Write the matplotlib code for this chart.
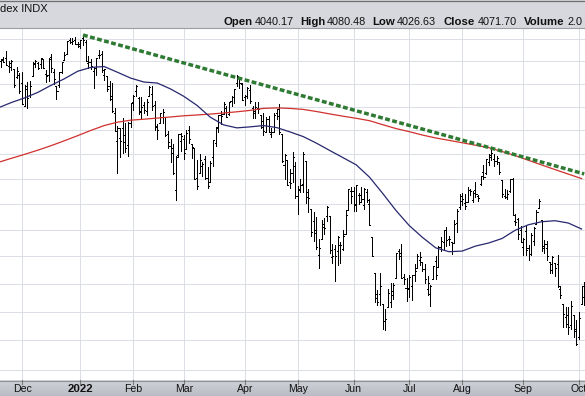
import numpy as np
import pandas as pd
import matplotlib
matplotlib.use('Agg')
import matplotlib.pyplot as plt
from matplotlib.collections import LineCollection
import matplotlib.transforms as mtransforms

plt.rcParams['font.family'] = ['Liberation Sans', 'DejaVu Sans']

# ---------------- data ----------------
holidays = ['2021-11-25', '2021-12-24', '2022-01-17', '2022-02-21', '2022-04-15',
            '2022-05-30', '2022-06-20', '2022-07-04', '2022-09-05']
dates = pd.bdate_range('2021-11-17', '2022-10-05', freq='C', holidays=holidays)

opens = [
    4701.5, 4700.7, 4708.4, 4712.0, 4678.5, 4675.8, 4664.6, 4628.8, 4640.2,
    4602.8, 4504.7, 4589.5, 4548.4, 4632.0, 4690.9, 4691.0, 4687.6, 4710.3, 4642.0, 4636.5, 4719.1, 4652.5, 4587.9, 4595.0, 4650.4, 4704.0, 4734.0, 4795.5, 4788.6, 4794.2, 4775.2,
    4778.1, 4804.5, 4788.0, 4693.4, 4697.7, 4655.3, 4669.1, 4728.6, 4733.6, 4638.0, 4632.2, 4588.0, 4547.4, 4471.4, 4356.3, 4366.6, 4408.4, 4380.6, 4336.2, 4431.8,
    4519.6, 4566.4, 4535.4, 4482.8, 4505.8, 4480.0, 4547.0, 4553.2, 4506.3, 4412.6, 4429.3, 4455.8, 4456.1, 4384.6, 4332.7, 4324.9, 4155.8, 4298.4, 4354.2,
    4363.1, 4322.6, 4401.3, 4342.1, 4327.0, 4202.7, 4223.1, 4252.6, 4279.5, 4202.8, 4188.8, 4288.1, 4345.1, 4407.3, 4462.4, 4469.1, 4493.1, 4470.0, 4522.7, 4541.1, 4602.9, 4624.2, 4599.0,
    4540.3, 4548.0, 4572.5, 4494.2, 4474.7, 4494.2, 4462.6, 4437.6, 4394.3, 4449.1, 4385.6, 4390.6, 4472.3, 4489.2, 4385.8, 4255.3, 4278.1, 4186.5, 4222.6, 4253.8,
    4130.6, 4159.8, 4181.2, 4270.4, 4128.2, 4081.3, 4035.2, 3990.1, 3904.0, 3963.9, 4013.0, 4052.0, 4052.0, 3899.0, 3927.8, 3919.4, 3942.9, 3929.6, 3984.6, 4077.4, 4151.1,
    4149.8, 4095.4, 4137.6, 4134.7, 4096.5, 4147.1, 4101.7, 3974.4, 3838.2, 3763.5, 3764.1, 3728.2, 3665.9, 3715.3, 3733.9, 3774.7, 3821.8, 3920.8, 3913.0, 3825.1, 3786.0,
    3781.0, 3792.6, 3832.0, 3858.9, 3888.3, 3880.9, 3852.0, 3779.7, 3764.0, 3818.0, 3883.8, 3860.7, 3935.3, 3955.5, 4000.0, 3965.7, 3953.2, 3951.4, 4026.1, 4087.3,
    4112.4, 4104.2, 4108.0, 4154.9, 4115.9, 4155.9, 4133.1, 4181.0, 4227.4, 4225.0, 4269.4, 4290.5, 4280.4, 4273.1, 4266.3, 4195.1, 4133.1, 4126.6, 4153.3, 4198.7, 4034.6, 4041.3, 4000.7,
    3936.7, 3994.7, 3930.9, 3909.4, 3959.9, 4022.9, 4083.7, 4037.1, 3940.7, 3932.4, 3881.0, 3849.9, 3875.2, 3871.4, 3782.4, 3727.1, 3682.7, 3686.4, 3651.9, 3687.0, 3633.5,
    3609.8, 3726.5, 3753.3]

highs = [
    4701.5, 4708.8, 4717.8, 4743.8, 4699.4, 4702.9, 4664.6, 4672.9, 4646.0,
    4652.9, 4595.5, 4608.0, 4612.6, 4694.0, 4705.1, 4695.3, 4713.6, 4710.3, 4660.5, 4712.6, 4732.0, 4666.7, 4587.9, 4651.1, 4697.7, 4740.7, 4791.5, 4807.0, 4804.1, 4808.9, 4786.8,
    4796.6, 4818.6, 4797.7, 4725.0, 4708.0, 4673.0, 4714.1, 4749.0, 4744.1, 4665.1, 4632.2, 4611.6, 4602.1, 4494.5, 4417.4, 4411.0, 4453.2, 4428.7, 4432.7, 4516.9,
    4550.5, 4595.3, 4542.9, 4539.7, 4521.9, 4531.3, 4590.0, 4588.9, 4526.3, 4426.2, 4472.8, 4489.6, 4456.1, 4394.6, 4362.1, 4341.5, 4294.7, 4385.3, 4388.8,
    4378.5, 4401.5, 4416.8, 4342.1, 4327.0, 4276.9, 4299.4, 4268.3, 4291.0, 4247.6, 4271.1, 4358.0, 4412.7, 4465.4, 4481.8, 4522.0, 4501.1, 4520.6, 4546.0, 4575.7, 4637.3, 4627.8, 4603.1,
    4548.7, 4583.5, 4593.5, 4503.9, 4521.2, 4520.4, 4464.4, 4471.0, 4453.9, 4460.5, 4410.3, 4471.0, 4488.3, 4512.9, 4385.8, 4299.0, 4278.1, 4240.7, 4308.5, 4269.7,
    4169.8, 4200.1, 4307.7, 4270.4, 4157.7, 4081.3, 4068.8, 4049.1, 3964.8, 4038.9, 4046.5, 4090.7, 4052.0, 3946.0, 3943.4, 3975.5, 3955.7, 3999.3, 4075.1, 4158.5, 4168.3,
    4166.5, 4177.5, 4142.7, 4168.8, 4164.9, 4160.1, 4119.1, 3974.4, 3838.2, 3778.2, 3837.6, 3728.2, 3707.7, 3779.7, 3801.8, 3802.6, 3913.7, 3927.7, 3945.9, 3836.5, 3819.0,
    3829.8, 3832.2, 3870.9, 3910.6, 3918.5, 3880.9, 3873.4, 3829.4, 3796.4, 3863.6, 3902.4, 3939.8, 3974.1, 3999.3, 4012.4, 3975.3, 3953.2, 4039.6, 4079.0, 4140.2,
    4145.0, 4140.5, 4167.7, 4161.3, 4151.6, 4186.6, 4137.3, 4211.0, 4257.9, 4280.5, 4301.8, 4325.3, 4302.2, 4292.5, 4266.3, 4195.1, 4159.8, 4156.6, 4200.5, 4203.0, 4063.0, 4045.0, 4015.4,
    3970.2, 4018.4, 3942.5, 3987.9, 4010.5, 4076.8, 4119.3, 4037.1, 3961.9, 3959.1, 3881.0, 3900.5, 3876.0, 3907.1, 3790.9, 3727.1, 3715.7, 3717.5, 3736.7, 3687.0, 3671.4,
    3698.4, 3791.9, 3806.9]

lows = [
    4684.4, 4672.8, 4694.2, 4682.2, 4652.7, 4659.9, 4585.4, 4625.3, 4560.0,
    4510.3, 4504.7, 4495.1, 4540.5, 4632.0, 4674.5, 4666.0, 4670.2, 4667.6, 4606.5, 4611.2, 4651.9, 4600.2, 4531.1, 4583.2, 4645.5, 4704.0, 4734.0, 4780.0, 4778.1, 4775.3, 4765.8,
    4758.2, 4774.3, 4699.4, 4671.3, 4662.7, 4582.2, 4638.3, 4716.1, 4650.3, 4614.8, 4568.7, 4530.2, 4478.0, 4395.3, 4222.6, 4287.1, 4304.8, 4309.5, 4292.5, 4414.0,
    4483.5, 4544.3, 4470.4, 4451.5, 4471.5, 4465.4, 4547.0, 4484.3, 4401.4, 4364.8, 4429.3, 4429.7, 4373.8, 4327.2, 4267.1, 4221.5, 4114.7, 4286.8, 4315.1,
    4279.5, 4322.6, 4345.6, 4285.0, 4199.9, 4157.9, 4223.1, 4209.8, 4200.5, 4161.7, 4187.9, 4252.0, 4335.7, 4390.6, 4424.3, 4469.1, 4455.8, 4465.2, 4501.1, 4517.7, 4589.7, 4581.3, 4530.4,
    4507.6, 4539.2, 4514.2, 4450.0, 4450.3, 4474.6, 4408.4, 4381.3, 4392.7, 4390.8, 4370.3, 4390.6, 4448.8, 4384.5, 4267.6, 4200.8, 4175.0, 4162.9, 4188.6, 4124.3,
    4062.5, 4147.1, 4148.9, 4106.0, 4067.9, 3975.5, 3958.2, 3928.8, 3858.9, 3963.9, 3984.0, 4033.9, 3911.9, 3876.6, 3810.3, 3868.9, 3875.1, 3925.0, 3984.6, 4077.4, 4104.9,
    4073.9, 4074.4, 4098.7, 4109.2, 4080.2, 4107.2, 4017.2, 3900.2, 3734.3, 3722.3, 3722.3, 3639.8, 3636.9, 3715.3, 3717.7, 3743.5, 3821.8, 3889.7, 3820.1, 3799.0, 3738.7,
    3752.1, 3742.1, 3809.4, 3858.9, 3869.3, 3847.2, 3802.4, 3759.1, 3721.6, 3817.2, 3818.6, 3860.7, 3922.0, 3927.6, 3938.8, 3943.5, 3910.7, 3951.4, 3993.0, 4079.2,
    4096.0, 4079.8, 4108.0, 4135.4, 4107.3, 4129.0, 4112.1, 4177.3, 4201.4, 4219.8, 4256.9, 4277.8, 4253.1, 4262.0, 4218.7, 4129.9, 4124.0, 4120.0, 4147.6, 4057.7, 4017.4, 3965.2, 3954.5,
    3903.7, 3906.2, 3886.8, 3906.0, 3944.8, 4022.9, 4083.7, 3922.0, 3912.4, 3888.3, 3837.1, 3838.5, 3827.5, 3789.5, 3749.4, 3647.5, 3644.8, 3623.3, 3640.6, 3610.4, 3584.1,
    3604.9, 3726.5, 3722.7]

closes = [
    4688.7, 4704.5, 4698.0, 4682.9, 4690.7, 4701.5, 4594.6, 4655.3, 4567.0,
    4513.0, 4577.1, 4538.4, 4591.7, 4686.8, 4701.2, 4667.5, 4712.0, 4669.0, 4634.1, 4709.9, 4668.7, 4620.6, 4568.0, 4649.2, 4696.6, 4725.8, 4791.2, 4786.4, 4793.1, 4778.7, 4766.2,
    4796.6, 4793.5, 4700.6, 4696.1, 4677.0, 4670.3, 4713.1, 4726.4, 4659.0, 4662.9, 4577.1, 4532.8, 4482.7, 4397.9, 4410.1, 4356.5, 4349.9, 4326.5, 4431.9, 4515.6,
    4546.5, 4589.4, 4477.4, 4500.5, 4483.9, 4521.5, 4587.2, 4504.1, 4418.6, 4401.7, 4471.1, 4475.0, 4380.3, 4348.9, 4304.8, 4225.5, 4288.7, 4384.7, 4373.9,
    4306.3, 4386.5, 4363.5, 4328.9, 4201.1, 4170.7, 4277.9, 4259.5, 4204.3, 4173.1, 4262.5, 4357.9, 4411.7, 4463.1, 4461.2, 4511.6, 4456.2, 4520.2, 4543.1, 4575.5, 4631.6, 4602.5, 4530.4,
    4545.9, 4582.6, 4525.1, 4481.2, 4500.2, 4488.3, 4412.5, 4397.5, 4446.6, 4392.6, 4391.7, 4462.2, 4459.5, 4393.7, 4271.8, 4296.1, 4175.2, 4184.0, 4287.5, 4131.9,
    4155.4, 4175.5, 4300.2, 4146.9, 4123.3, 3991.2, 4001.1, 3935.2, 3930.1, 4023.9, 4008.0, 4088.9, 3923.7, 3900.8, 3901.4, 3973.8, 3941.5, 3978.7, 4057.8, 4158.2, 4132.2,
    4101.2, 4176.8, 4108.5, 4121.4, 4160.7, 4115.8, 4017.8, 3900.9, 3749.6, 3735.5, 3790.0, 3666.8, 3674.8, 3764.8, 3759.9, 3795.7, 3911.7, 3900.1, 3821.6, 3818.8, 3785.4,
    3825.3, 3831.4, 3845.1, 3902.6, 3899.4, 3854.4, 3818.8, 3801.8, 3790.4, 3863.2, 3830.9, 3936.7, 3959.9, 3999.0, 3961.6, 3966.8, 3921.1, 4023.6, 4072.4, 4130.3,
    4118.6, 4091.2, 4155.2, 4151.9, 4145.2, 4140.1, 4122.5, 4210.2, 4207.3, 4280.2, 4297.1, 4305.2, 4274.0, 4283.7, 4228.5, 4138.0, 4128.7, 4140.8, 4199.1, 4057.7, 4030.6, 3986.2, 3955.0,
    3966.9, 3924.3, 3908.2, 3979.9, 4006.2, 4067.4, 4110.4, 3932.7, 3946.0, 3901.4, 3873.3, 3899.9, 3855.9, 3789.9, 3758.0, 3693.2, 3655.0, 3647.3, 3719.0, 3640.5, 3585.6,
    3678.4, 3790.9, 3783.3]

# moving averages, one value every 5th trading day
ma_step = 5
ma50 = [4494.6, 4517.8, 4537.7, 4561.9, 4592.9, 4621.5, 4654.7, 4671.9, 4675.6, 4650.2,
        4624.2, 4607.0, 4602.6, 4576.8, 4544.6, 4505.3, 4454.9, 4422.3, 4409.7, 4413.9,
        4419.4, 4411.0, 4392.9, 4373.3, 4345.9, 4315.7, 4286.2, 4256.9, 4207.2, 4142.3,
        4075.3, 4017.0, 3971.7, 3932.2, 3917.9, 3920.2, 3938.9, 3950.6, 3967.5, 3999.1,
        4020.1, 4031.6, 4035.5, 4026.6, 4003.6]
ma200 = [4266.6, 4283.3, 4299.6, 4316.9, 4335.5, 4355.8, 4377.0, 4399.2, 4419.4, 4433.7,
         4442.2, 4446.4, 4451.1, 4455.8, 4460.9, 4464.3, 4468.2, 4472.8, 4477.9, 4483.9,
         4492.5, 4494.6, 4492.5, 4488.2, 4479.2, 4468.9, 4459.2, 4450.2, 4440.1, 4423.2,
         4406.8, 4393.8, 4379.5, 4367.4, 4357.5, 4347.5, 4337.1, 4327.2, 4311.2, 4294.4,
         4275.1, 4256.0, 4237.4, 4219.2, 4201.2]

trend_dates = ['2022-01-04', '2022-10-05']
trend_values = [4818.6, 4220.0]

month_labels = ['Dec', '2022', 'Feb', 'Mar', 'Apr', 'May', 'Jun', 'Jul', 'Aug', 'Sep', 'Oct']
grid_prices = list(range(3500, 4900, 100))

header_title = 'dex INDX'
header_fields = [('Open', '4040.17'), ('High', '4080.48'), ('Low', '4026.63'),
                 ('Close', '4071.70'), ('Volume', '2.0')]

# ---------------- figure ----------------
W, H = 585, 396
fig = plt.figure(figsize=(W / 100, H / 100), dpi=100, facecolor='#d6d8dd')


def fx(px):
    return px / W


def fy(py):
    return 1 - py / H


plot_top, plot_bot = 28, 380
ax = fig.add_axes([0, fy(plot_bot), 1, (plot_bot - plot_top) / H])
ax.set_facecolor('#ffffff')
ax.set_yscale('log')
ax.set_ylim(3466, 4851)
ax.set_xlim(0.704, 221.29)
for s in ax.spines.values():
    s.set_visible(False)
ax.set_xticks([])
ax.set_yticks([])
ax.yaxis.set_minor_locator(matplotlib.ticker.NullLocator())

n = len(dates)
idx = np.arange(n)
assert n == len(opens) == len(highs) == len(lows) == len(closes)

# month start positions
ser = pd.Series(idx, index=dates)
month_first = ser.groupby([dates.year, dates.month]).first()
month_pos = [p for (y, m), p in month_first.items() if (y, m) >= (2021, 12)]

# grid
for p in grid_prices:
    ax.axhline(p, color='#dadde4', lw=0.7, zorder=0)
for mp in month_pos:
    ax.axvline(mp, color='#dadde4', lw=0.7, zorder=0)

# OHLC bars
tk = 0.4
segs = []
for i in range(n):
    segs.append([(i, lows[i]), (i, highs[i])])
    segs.append([(i - tk, opens[i]), (i, opens[i])])
    segs.append([(i, closes[i]), (i + tk, closes[i])])
lc = LineCollection(segs, colors='#000000', linewidths=0.5, antialiaseds=False, zorder=3)
ax.add_collection(lc)

# moving averages
ma_x = idx[::ma_step][:len(ma50)]
ax.plot(ma_x, ma200, color='#d0312d', lw=0.9, zorder=4)
ax.plot(ma_x, ma50, color='#27286e', lw=0.9, zorder=4)

# trend line
tx = [dates.get_loc(pd.Timestamp(d)) for d in trend_dates]
ax.plot(tx, trend_values, color='#2f7a33', lw=2.5, linestyle=(0, (1.4, 0.7)),
        dash_capstyle='butt', zorder=5)

# header decorations
fig.add_artist(plt.Line2D([0, 1], [fy(0.5), fy(0.5)], transform=fig.transFigure,
                          color='#6f6f6f', lw=0.9))
fig.add_artist(plt.Line2D([0, 1], [fy(28), fy(28)], transform=fig.transFigure,
                          color='#9c9ea3', lw=0.8))

fig.text(fx(0), fy(9.5), header_title, fontsize=8, color='#111111', ha='left', va='center')

field_x = [(223, 255), (300, 327), (372, 397), (443, 478), (524, 568)]
for (lab, val), (xl, xv) in zip(header_fields, field_x):
    fig.text(fx(xl), fy(22), lab, fontsize=8.2, fontweight='bold', color='#111111',
             ha='left', va='center')
    fig.text(fx(xv), fy(22), val, fontsize=7.8, color='#111111', ha='left', va='center')

# bottom band with a soft vertical gradient
bax = fig.add_axes([0, 0, 1, fy(plot_bot)], zorder=1)
grad = np.linspace(0, 1, 32).reshape(-1, 1)
cmap = matplotlib.colors.LinearSegmentedColormap.from_list('band', ['#d2d4da', '#b9bcc4'])
bax.imshow(grad, aspect='auto', cmap=cmap, extent=[0, 1, 0, 1], origin='upper')
bax.set_axis_off()
fig.add_artist(plt.Line2D([0, 1], [fy(380.5), fy(380.5)], transform=fig.transFigure,
                          color='#8e929a', lw=0.8, zorder=2))

trans = mtransforms.blended_transform_factory(ax.transData, fig.transFigure)
for mp, lab in zip(month_pos, month_labels):
    fig.add_artist(plt.Line2D([mp, mp], [fy(380), fy(384)], transform=trans,
                              color='#777777', lw=0.8, zorder=3))
    fig.text(mp, fy(388.5), lab, transform=trans,
             fontsize=7.6 if lab != '2022' else 8.2,
             fontweight='bold' if lab == '2022' else 'normal', color='#111111',
             ha='center', va='center', zorder=4)

fig.savefig('out.png', dpi=100, facecolor=fig.get_facecolor())
